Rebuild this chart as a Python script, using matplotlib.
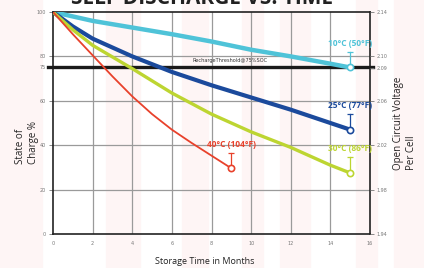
import matplotlib
matplotlib.use("Agg")
import matplotlib.pyplot as plt
import numpy as np

# ---- data ----
months_cyan = [0, 2, 4, 6, 8, 10, 12, 14, 15]
soc_cyan = [100, 96, 93, 90, 86.7, 83, 80, 76.7, 75]
months_blue = [0, 1, 2, 4, 6, 8, 10, 12, 15]
soc_blue = [100, 93.5, 88, 80, 73, 67, 61.5, 56, 47]
months_green = [0, 1, 2, 4, 6, 8, 10, 12, 14, 15]
soc_green = [100, 92, 85, 74.5, 63.5, 54, 46, 39, 31, 27.5]
months_red = [0, 1, 2, 3, 4, 5, 6, 7, 8, 9]
soc_red = [100, 90, 80.5, 71, 62, 54, 47, 41, 35.3, 29.6]

labels = ["10°C (50°F)", "25°C (77°F)", "30°C (86°F)", "40°C (104°F)"]
colors = ["#4fc3d8", "#1b4a9c", "#bdd531", "#e8412b"]
widths = [3.2, 3.0, 2.4, 1.3]

x_ticks = [0, 2, 4, 6, 8, 10, 12, 14, 16]
soc_ticks = [0, 20, 40, 60, 75, 80, 100]
volt_ticks = [1.94, 1.98, 2.02, 2.06, 2.09, 2.10, 2.14]
threshold = 75

fig = plt.figure(figsize=(4.24, 2.68), dpi=100)
fig.patch.set_facecolor("white")

# faint pink background stripes
for x0, w in [(0.0, 0.10), (0.25, 0.08), (0.43, 0.06), (0.57, 0.05), (0.66, 0.07), (0.84, 0.05), (0.93, 0.07)]:
    fig.patches.append(matplotlib.patches.Rectangle((x0, 0), w, 1, transform=fig.transFigure,
                                                    color="#fef5f5", zorder=-10))

ax = fig.add_axes([53/424, 1-234/268, (370-53)/424, (234-12)/268])
ax.set_facecolor("none")
ax.set_xlim(0, 16)
ax.set_ylim(0, 100)

ax.set_xticks(x_ticks)
ax.set_xticklabels([str(t) for t in x_ticks])
ax.set_yticks(soc_ticks)
ax.set_yticklabels([str(t) for t in soc_ticks])
ax.tick_params(labelsize=3.5, colors="#777777", length=3, width=0.6, pad=2)
ax.tick_params(axis="x", length=0, pad=5)

for t in x_ticks[1:-1]:
    ax.axvline(t, color="#9a9a9a", lw=0.9, zorder=1)
for t in [20, 40, 60, 80]:
    ax.axhline(t, color="#9a9a9a", lw=0.9, zorder=1)

for s in ax.spines.values():
    s.set_color("#222222")
    s.set_linewidth(1.2)

# threshold line
ax.plot([-0.25, 16.15], [threshold, threshold], color="#1a1a1a", lw=2.4, zorder=3, clip_on=False)
ax.text(8.95, 77.0, "RechargeThreshold@75%SOC", fontsize=3.6, color="#333333",
        ha="center", va="bottom", zorder=4)

series = [(months_cyan, soc_cyan), (months_blue, soc_blue), (months_green, soc_green), (months_red, soc_red)]
for (mx, sy), lab, c, lw in zip(series, labels, colors, widths):
    ax.plot(mx, sy, color=c, lw=lw, zorder=5, solid_capstyle="round")
    xe, ye = mx[-1], sy[-1]
    ax.plot([xe], [ye], marker="o", ms=4.5, mfc="white", mec=c, mew=1.2, zorder=6)
    ax.plot([xe, xe], [ye + 1.8, ye + 7], color=c, lw=0.9, zorder=6)
    ax.plot([xe], [ye + 7], marker="_", ms=5, mec=c, mew=0.9, zorder=6)
    ax.text(xe, ye + 8.8, lab, color=c, fontsize=6, fontweight="bold", ha="center",
            va="bottom", family="Open Sans", zorder=6)

# right axis (voltage)
ax2 = ax.twinx()
ax2.set_ylim(0, 100)
ax2.set_yticks([(v - volt_ticks[0]) / (volt_ticks[-1] - volt_ticks[0]) * 100 for v in volt_ticks])
ax2.set_yticklabels([f"{v:.2f}" for v in volt_ticks])
ax2.tick_params(labelsize=3.5, colors="#777777", length=3, width=0.6, pad=2)
for s in ax2.spines.values():
    s.set_visible(False)

# labels
fig.text(27/424, 1-142/268, "State of\nCharge %", rotation=90, fontsize=7, color="#222222",
         ha="center", va="center", multialignment="left", family="Open Sans")
fig.text(405/424, 1-123/268, "Open Circuit Voltage\nPer Cell", rotation=90, fontsize=7,
         color="#222222", ha="center", va="center", multialignment="left", family="Open Sans")
fig.text(205/424, 1-262/268, "Storage Time in Months", fontsize=6.5, color="#222222",
         ha="center", va="center", family="Open Sans")
fig.text(202/424, 1-4/268, "SELF DISCHARGE VS. TIME", fontsize=15, fontweight="bold",
         color="#222222", ha="center", va="baseline", family="Open Sans")

fig.savefig("out.png", dpi=100)
